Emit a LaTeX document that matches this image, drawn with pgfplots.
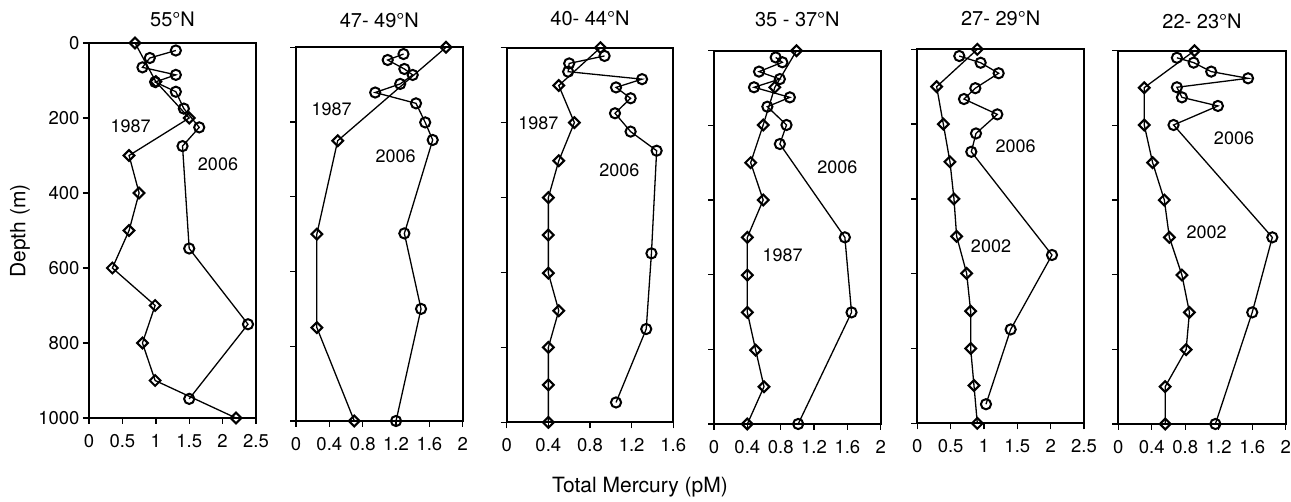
\documentclass[border=0pt]{standalone}
\usepackage{fontspec}
\setmainfont{TeX Gyre Heros}
\usepackage{pgfplots}
\pgfplotsset{compat=1.18}
\pgfplotsset{
  panel/.style={scale only axis, y dir=reverse, ymin=0, ymax=1000, xmin=0,
    ytick={0,200,...,1000}, tick align=outside, tick pos=left,
    axis line style={line width=1.7pt}, major tick style={line width=1.4pt, black},
    major tick length=6pt, clip=false, anchor=south west,
    /pgf/number format/assume math mode=true,
    ticklabel style={font=\fontsize{18.5}{18.5}\selectfont},
    xticklabel style={yshift=-7pt},
    title style={font=\fontsize{20}{20}\selectfont, anchor=base, at={(0.5,1)}},
  },
  s87/.style={black, line width=1.3pt, mark=square, mark size=3.8pt,
    mark options={rotate=45, line width=2.1pt, solid}},
  s06/.style={black, line width=1.3pt, mark=o, mark size=5.1pt,
    mark options={line width=2pt, solid}},
}
\newcommand{\ann}[3]{\node[font=\fontsize{18}{18}\selectfont] at (#1pt,#2pt) {#3};}
\begin{document}
\begin{tikzpicture}
\useasboundingbox (0pt,0pt) rectangle (1291pt,502pt);
% Panel 1
\begin{axis}[panel, at={(89pt,84pt)}, width=167pt, height=375pt, xmax=2.5,
  xtick={0,0.5,1,1.5,2,2.5}, xticklabels={0,0.5,1,1.5,2,2.5},
  yticklabels={0,200,400,600,800,1000},
  title={55°N}, title style={yshift=10.7pt}]
\addplot[s87] coordinates {(0.69,0)(1.0,103)(1.5,200)(0.60,300)(0.75,400)(0.60,500)(0.35,600)(0.99,700)(0.80,800)(0.99,900)(2.20,1000)};
\addplot[s06] coordinates {(1.30,20)(0.91,40)(0.80,65)(1.30,85)(0.99,104)(1.30,130)(1.42,175)(1.65,225)(1.40,275)(1.50,548)(2.38,750)(1.50,949)};
\end{axis}
% Panel 2
\begin{axis}[panel, at={(296pt,81pt)}, width=166.7pt, height=373.7pt, xmax=2,
  xtick={0,0.4,0.8,1.2,1.6,2}, xticklabels={0,0.4,0.8,1.2,1.6,2}, yticklabels={},
  title={47- 49°N}, title style={yshift=13.3pt}]
\addplot[s87] coordinates {(1.80,0)(0.50,250)(0.25,500)(0.25,750)(0.70,1000)};
\addplot[s06] coordinates {(1.29,18)(1.10,34)(1.30,58)(1.40,74)(1.25,98)(0.95,121)(1.44,150)(1.55,201)(1.64,248)(1.30,498)(1.50,700)(1.20,1000)};
\end{axis}
% Panel 3
\begin{axis}[panel, at={(506.7pt,79.7pt)}, width=166.6pt, height=374.6pt, xmax=1.6,
  xtick={0,0.4,0.8,1.2,1.6}, xticklabels={0,0.4,0.8,1.2,1.6}, yticklabels={},
  title={40- 44°N}, title style={yshift=16pt}]
\addplot[s87] coordinates {(0.90,0)(0.50,101)(0.65,200)(0.50,302)(0.40,400)(0.40,500)(0.40,602)(0.50,702)(0.40,800)(0.40,900)(0.40,1000)};
\addplot[s06] coordinates {(0.94,22)(0.60,42)(0.59,64)(1.30,84)(1.05,106)(1.19,135)(1.04,175)(1.19,224)(1.44,275)(1.39,549)(1.34,751)(1.05,947)};
\end{axis}
% Panel 4
\begin{axis}[panel, at={(714pt,78pt)}, width=166.7pt, height=373.3pt, xmax=2,
  xtick={0,0.4,0.8,1.2,1.6,2}, xticklabels={0,0.4,0.8,1.2,1.6,2}, yticklabels={},
  title={35 - 37°N}, title style={yshift=18.4pt}]
\addplot[s87] coordinates {(0.99,0)(0.73,98)(0.59,199)(0.44,300)(0.59,400)(0.40,500)(0.40,601)(0.40,701)(0.50,802)(0.60,900)(0.40,1000)};
\addplot[s06] coordinates {(0.74,18)(0.82,31)(0.54,56)(0.79,76)(0.48,98)(0.91,125)(0.64,150)(0.87,199)(0.79,250)(1.57,500)(1.65,701)(1.01,1000)};
\end{axis}
% Panel 5
\begin{axis}[panel, at={(917.3pt,78.7pt)}, width=166.7pt, height=374pt, xmax=2.5,
  xtick={0,0.5,1,1.5,2,2.5}, xticklabels={0,0.5,1,1.5,2,2.5}, yticklabels={},
  title={27- 29°N}, title style={yshift=17.6pt}]
\addplot[s87] coordinates {(0.90,0)(0.29,100)(0.39,200)(0.49,301)(0.55,400)(0.59,500)(0.74,599)(0.80,700)(0.80,800)(0.85,899)(0.90,1000)};
\addplot[s06] coordinates {(0.63,18)(0.95,36)(1.22,64)(0.87,104)(0.70,133)(1.20,174)(0.88,225)(0.81,274)(2.02,550)(1.40,749)(1.03,949)};
\end{axis}
% Panel 6
\begin{axis}[panel, at={(1118.3pt,78pt)}, width=167.4pt, height=373.3pt, xmax=2,
  xtick={0,0.4,0.8,1.2,1.6,2}, xticklabels={0,0.4,0.8,1.2,1.6,2}, yticklabels={},
  title={22- 23°N}, title style={yshift=15.7pt}]
\addplot[s87] coordinates {(0.91,0)(0.31,99)(0.31,199)(0.41,300)(0.55,400)(0.61,500)(0.76,601)(0.85,701)(0.81,801)(0.56,900)(0.56,1000)};
\addplot[s06] coordinates {(0.70,19)(0.90,32)(1.11,56)(1.55,74)(0.70,98)(0.76,125)(1.19,148)(0.66,199)(1.84,500)(1.60,701)(1.16,1000)};
\end{axis}
% annotations
\ann{130.7}{375.3}{1987}
\ann{218}{338}{2006}
\ann{331.7}{393}{1987}
\ann{395.7}{345.3}{2006}
\ann{538.3}{378.7}{1987}
\ann{619.3}{331.3}{2006}
\ann{837.3}{334.7}{2006}
\ann{782.7}{247}{1987}
\ann{1015.7}{355.3}{2006}
\ann{991}{256}{2002}
\ann{1234}{363.7}{2006}
\ann{1206.7}{269.7}{2002}
\node[font=\fontsize{21}{21}\selectfont] at (640pt,15pt) {Total Mercury (pM)};
\node[font=\fontsize{21}{21}\selectfont, rotate=90] at (20pt,271pt) {Depth (m)};
\end{tikzpicture}
\end{document}
